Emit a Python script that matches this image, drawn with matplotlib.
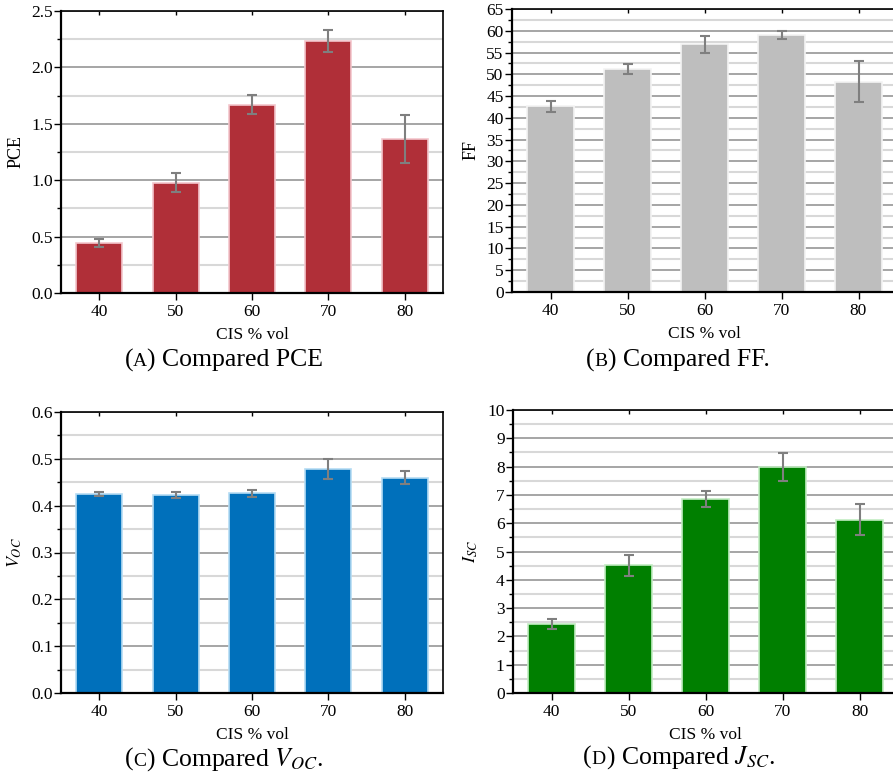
import matplotlib
matplotlib.use("Agg")
import matplotlib.pyplot as plt
import matplotlib.lines as mlines
from matplotlib.ticker import MultipleLocator, FormatStrFormatter
from matplotlib.offsetbox import TextArea, HPacker, AnnotationBbox
import numpy as np

plt.rcParams['font.family'] = ['Liberation Serif', 'DejaVu Serif']
plt.rcParams['mathtext.fontset'] = 'stix'

# CIS volume fractions
cis_vol = ['40', '50', '60', '70', '80']

# Device parameters (mean and error)
pce = [0.446, 0.979, 1.669, 2.236, 1.366]
pce_err = [0.037, 0.086, 0.083, 0.098, 0.21]

ff = [42.7, 51.2, 56.9, 59.0, 48.3]
ff_err = [1.25, 1.15, 2.0, 0.9, 4.75]

voc = [0.425, 0.423, 0.427, 0.478, 0.460]
voc_err = [0.005, 0.007, 0.0075, 0.022, 0.0145]

isc = [2.43, 4.51, 6.86, 7.99, 6.13]
isc_err = [0.18, 0.37, 0.27, 0.49, 0.54]

W, H = 893, 781
fig = plt.figure(figsize=(W / 100, H / 100), dpi=100)


def px_axes(left, top, right, bottom):
    # axes rectangle given in pixel coords measured from the top-left
    return fig.add_axes([left / W, 1 - bottom / H, (right - left) / W, (bottom - top) / H])


def barpanel(ax, vals, errs, color, edge, ylabel, ymax, major, minor, fmt):
    x = np.arange(len(cis_vol))
    ax.bar(x, vals, width=0.6, color=color, edgecolor=edge, linewidth=1.2, zorder=2)
    ax.errorbar(x, vals, yerr=errs, fmt='none', ecolor='#7f7f7f', elinewidth=1.5,
                capsize=3.5, capthick=1.5, zorder=3)
    ax.set_xlim(-0.5, len(cis_vol) - 0.5)
    ax.set_ylim(0, ymax)
    ax.set_xticks(x)
    ax.set_xticklabels(cis_vol)
    ax.yaxis.set_major_locator(MultipleLocator(major))
    ax.yaxis.set_minor_locator(MultipleLocator(minor))
    ax.yaxis.set_major_formatter(FormatStrFormatter(fmt))
    ax.set_axisbelow(True)
    ax.yaxis.grid(True, which='major', color='#969696', linewidth=1.2)
    ax.yaxis.grid(True, which='minor', color='#d8d8d8', linewidth=1.5)
    for s in ax.spines.values():
        s.set_color('black')
        s.set_linewidth(1.2)
    ax.spines['left'].set_linewidth(1.6)
    ax.spines['bottom'].set_linewidth(1.6)
    ax.tick_params(axis='x', which='major', direction='out', length=5, width=1,
                   top=True, labelsize=12.5, pad=3)
    ax.tick_params(axis='y', which='major', direction='out', length=5, width=1,
                   labelsize=12.5, pad=1)
    ax.tick_params(axis='y', which='minor', direction='out', length=3, width=1)
    # top ticks point into the frame
    for t in ax.xaxis.get_major_ticks():
        t.tick2line.set_marker(mlines.TICKDOWN)
        t.tick2line.set_markersize(3)
    ax.set_xlabel('CIS % vol', fontsize=12.5, labelpad=5)
    ax.set_ylabel(ylabel, fontsize=13, labelpad=5)


def caption(cx, cy, letter, rest):
    # "(X) rest" with the panel letter set as a small capital
    parts = [TextArea('(', textprops=dict(fontsize=18.5)),
             TextArea(letter, textprops=dict(fontsize=14)),
             TextArea(rest, textprops=dict(fontsize=18.5))]
    box = HPacker(children=parts, align='baseline', pad=0, sep=0)
    ab = AnnotationBbox(box, (cx / W, 1 - cy / H), xycoords='figure fraction',
                        frameon=False, box_alignment=(0.5, 0.5))
    fig.add_artist(ab)


ax_a = px_axes(61, 11, 443, 293)
barpanel(ax_a, pce, pce_err, '#b02f38', '#f3c6cc', 'PCE', 2.5, 0.5, 0.25, '%.1f')

ax_b = px_axes(512, 9, 897, 292)
barpanel(ax_b, ff, ff_err, '#bebebe', '#f4f4f4', 'FF', 65, 5, 2.5, '%d')

ax_c = px_axes(61, 412, 443, 693)
barpanel(ax_c, voc, voc_err, '#0070bb', '#b5dcf3', '$V_{OC}$', 0.6, 0.1, 0.05, '%.1f')

ax_d = px_axes(513, 410, 898, 693)
barpanel(ax_d, isc, isc_err, '#007f00', '#c2ecc2', '$I_{SC}$', 10, 1, 0.5, '%d')

caption(224, 360, 'A', ') Compared PCE')
caption(678, 360, 'B', ') Compared FF.')
caption(224, 760, 'C', ') Compared $V_{OC}$.')
caption(679, 758, 'D', ') Compared $J_{SC}$.')

fig.savefig('out.png', dpi=100)
